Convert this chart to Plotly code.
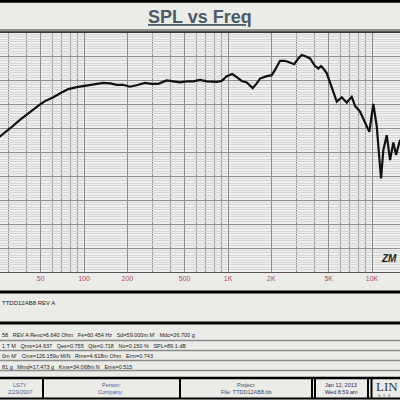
import plotly.graph_objects as go

# ---- data ----
freq = [24, 26.1, 30.6, 35.9, 42.2, 49.5, 53.6, 61.2, 70, 77.8, 89, 102, 116, 136, 152, 169, 187,
        208, 232, 265, 295, 328, 375, 417, 464, 516, 574, 639, 711, 835, 904, 980, 1071, 1150,
        1245, 1349, 1484, 1582, 1668, 1857, 2011, 2120, 2296, 2488, 2696, 2885, 3076, 3250, 3480,
        3710, 4020, 4240, 4420, 4590, 4850, 5250, 5690, 6160, 6670, 7230, 7620, 8260, 8940, 9580,
        10210, 10790, 11240, 11550, 11980, 12650, 13340, 14060, 14680, 15640, 16500]
spl = [77.4, 78.2, 79.9, 81.7, 83.4, 84.9, 85.6, 86.4, 87.4, 88.1, 88.5, 88.8, 89.2, 89.4, 89.3,
       89.0, 89.0, 88.6, 88.9, 89.4, 89.2, 89.2, 89.9, 89.7, 89.5, 89.7, 89.7, 90.0, 89.7, 89.6,
       89.8, 90.8, 91.25, 90.6, 89.8, 89.5, 88.3, 89.3, 90.3, 90.8, 91.0, 92.1, 94.0, 94.0, 93.7,
       93.3, 94.5, 95.2, 94.9, 94.5, 92.9, 92.4, 92.9, 92.4, 91.4, 88.6, 85.5, 86.4, 85.3, 86.5,
       84.6, 83.4, 81.3, 79.2, 85.0, 80.3, 73.7, 69.5, 75.4, 78.5, 73.3, 77.0, 74.4, 77.5, 76.0]

x_tick_vals = [50, 100, 200, 500, 1000, 2000, 5000, 10000]
x_tick_text = ["50", "100", "200", "500", "1K", "2K", "5K", "10K"]
x_minor_vals = [30, 40, 60, 70, 80, 90, 300, 400, 600, 700, 800, 900,
                3000, 4000, 6000, 7000, 8000, 9000]

title_text = "SPL vs Freq"
part_text = "TTDD12AB8 REV A"
param_rows = [
    "58   REV A Revc=6.640 Ohm   Fs=60.454 Hz   Sd=59.000m M'   Mdc=26.700 g",
    "1 T M   Qms=14.637   Qes=0.755   Qts=0.718   No=0.150 %   SPL=89.1 dB",
    "0m M'   Cms=126.159u M/N   Rms=4.618m Ohm   Erm=0.743",
    "81 g   Mmd=17.473 g   Kms=34.068m N   Ems=0.515",
]
box_texts = [
    ("LS7Y", "2/29/2007"),
    ("Person:", "Company:"),
    ("Project:", "File: TTDD12AB8.bb"),
    ("Jan 12, 2013", "Wed 8:59 am"),
]

# ---- layout helpers (pixel -> paper) ----
W, H = 400, 400
T, B = 32, 128
PLOT_H = H - T - B


def px(x):
    return x / W


def py(y):
    return (H - B - y) / PLOT_H


fig = go.Figure()
fig.add_trace(go.Scatter(x=freq, y=spl, mode="lines",
                         line=dict(color="#111111", width=2.2), hoverinfo="skip"))

fig.update_layout(
    width=W, height=H,
    margin=dict(l=0, r=0, t=T, b=B),
    paper_bgcolor="#ebebe7",
    plot_bgcolor="#efefed",
    showlegend=False,
    font=dict(family="Liberation Sans, Arial, sans-serif"),
)
fig.update_xaxes(
    type="log", range=[1.4166, 4.1942],
    tickvals=x_tick_vals, ticktext=x_tick_text,
    tickfont=dict(size=7, color="#b04a6a"),
    ticks="", showgrid=True, gridcolor="#8c8c8c", gridwidth=1,
    minor=dict(tickvals=x_minor_vals, showgrid=True, gridcolor="#8c8c8c", gridwidth=1, ticks=""),
    showline=True, linecolor="#555555", linewidth=1, mirror=True,
    zeroline=False, ticklabelstandoff=0,
)
fig.update_yaxes(
    range=[50, 100], dtick=5, tick0=50,
    showticklabels=False, ticks="",
    showgrid=True, gridcolor="#8e8e8e", gridwidth=1,
    minor=dict(dtick=0.5, showgrid=True, gridcolor="#d6d6d6", gridwidth=1, ticks=""),
    zeroline=False,
)

shapes = []


def hline(y, color, width, x0=0, x1=400):
    shapes.append(dict(type="line", xref="paper", yref="paper",
                       x0=px(x0), x1=px(x1), y0=py(y), y1=py(y),
                       line=dict(color=color, width=width)))


def vline(x, y0, y1, color, width):
    shapes.append(dict(type="line", xref="paper", yref="paper",
                       x0=px(x), x1=px(x), y0=py(y0), y1=py(y1),
                       line=dict(color=color, width=width)))


hline(1.2, "#000000", 3)
hline(30, "#333333", 1)
hline(32.5, "#333333", 1)
hline(292, "#000000", 3)
hline(323, "#000000", 3)
for yy in [340.5, 350.5, 360.5, 370.5]:
    hline(yy, "#8a8a8a", 1.5)
hline(378, "#000000", 2.5)
hline(398.5, "#000000", 2)
for xx in [43, 180, 312, 315, 368, 371.5]:
    vline(xx, 378, 399, "#000000", 2)

annotations = [
    dict(text="<b><u>" + title_text + "</u></b>", x=0.5, y=py(17), xref="paper", yref="paper",
         showarrow=False, font=dict(size=18, color="#4b5b68"), xanchor="center", yanchor="middle"),
    dict(text="<b><i>ZM</i></b>", x=px(399), y=py(258), xref="paper", yref="paper",
         showarrow=False, font=dict(size=10, color="#222222"), xanchor="right", yanchor="middle"),
    dict(text=part_text, x=px(0), y=py(303), xref="paper", yref="paper", showarrow=False,
         font=dict(size=6, color="#222222"), xanchor="left", yanchor="middle"),
]
for i, row in enumerate(param_rows):
    annotations.append(dict(text=row, x=px(0), y=py(335 + 10.5 * i), xref="paper", yref="paper",
                            showarrow=False, font=dict(size=5.5, color="#222222"),
                            xanchor="left", yanchor="middle"))
box_centers = [20, 111, 246, 341]
box_colors = ["#4a5fa0", "#4a5fa0", "#3a4a70", "#2a2a60"]
for (t1, t2), cx, col in zip(box_texts, box_centers, box_colors):
    annotations.append(dict(text=t1, x=px(cx), y=py(385), xref="paper", yref="paper",
                            showarrow=False, font=dict(size=5.5, color=col),
                            xanchor="center", yanchor="middle"))
    annotations.append(dict(text=t2, x=px(cx), y=py(392), xref="paper", yref="paper",
                            showarrow=False, font=dict(size=5.5, color=col),
                            xanchor="center", yanchor="middle"))
annotations.append(dict(text="LIN", x=px(374), y=py(386), xref="paper", yref="paper",
                        showarrow=False, font=dict(size=13, color="#333333",
                                                   family="Liberation Serif, serif"),
                        xanchor="left", yanchor="middle"))
annotations.append(dict(text="S  Y  S", x=px(376), y=py(395), xref="paper", yref="paper",
                        showarrow=False, font=dict(size=4, color="#555555"),
                        xanchor="left", yanchor="middle"))

fig.update_layout(shapes=shapes, annotations=annotations)
fig.write_html("out.html")
